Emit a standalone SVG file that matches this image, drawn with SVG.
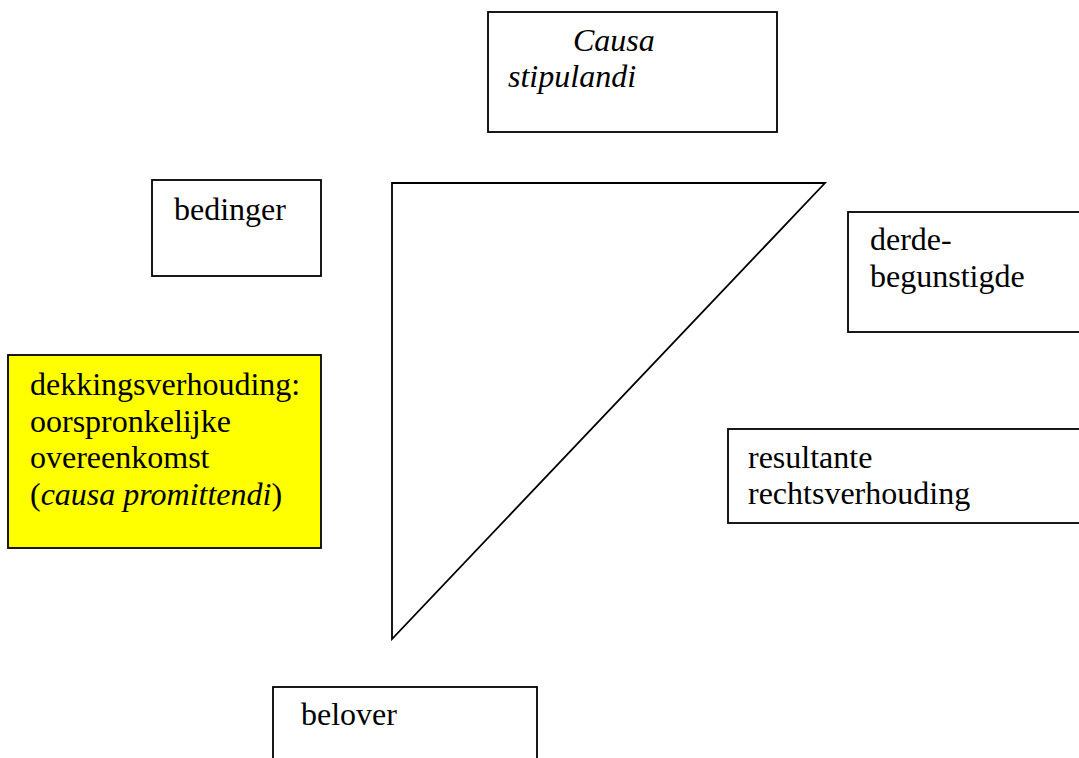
<svg xmlns="http://www.w3.org/2000/svg" width="1079" height="758" viewBox="0 0 1079 758">
  <style>
    .box { fill: #ffffff; stroke: #000000; stroke-width: 1.8; }
    .hl { fill: #ffff00; stroke: #000000; stroke-width: 1.8; }
    .t { font-family: "Liberation Serif", "Times New Roman", serif; font-size: 32px; fill: #000000; }
    .i { font-style: italic; }
    .edge { fill: none; stroke: #000000; stroke-width: 1.8; stroke-linejoin: miter; }
  </style>
  <rect width="1079" height="758" fill="#ffffff"/>

  <!-- relation triangle between the three parties -->
  <g id="connectors">
    <polygon class="edge" points="392,183 825,183 392,639"/>
  </g>

  <g id="causa-stipulandi">
    <rect class="box" x="488" y="12" width="289" height="120"/>
    <text class="t i" x="573" y="51">Causa</text>
    <text class="t i" x="508" y="87">stipulandi</text>
  </g>

  <g id="bedinger">
    <rect class="box" x="152" y="180" width="169" height="96"/>
    <text class="t" x="174" y="220">bedinger</text>
  </g>

  <g id="derde-begunstigde">
    <rect class="box" x="848" y="212" width="240" height="120"/>
    <text class="t" x="870" y="250">derde-</text>
    <text class="t" x="870" y="287">begunstigde</text>
  </g>

  <g id="dekkingsverhouding">
    <rect class="hl" x="8" y="355" width="313" height="193"/>
    <text class="t" x="30" y="395">dekkingsverhouding:</text>
    <text class="t" x="30" y="432">oorspronkelijke</text>
    <text class="t" x="30" y="468">overeenkomst</text>
    <text class="t" x="30" y="505">(<tspan class="i">causa promittendi</tspan>)</text>
  </g>

  <g id="resultante-rechtsverhouding">
    <rect class="box" x="728" y="429" width="360" height="94"/>
    <text class="t" x="748" y="468">resultante</text>
    <text class="t" x="748" y="504">rechtsverhouding</text>
  </g>

  <g id="belover">
    <rect class="box" x="273" y="687" width="264" height="90"/>
    <text class="t" x="301" y="725">belover</text>
  </g>
</svg>
